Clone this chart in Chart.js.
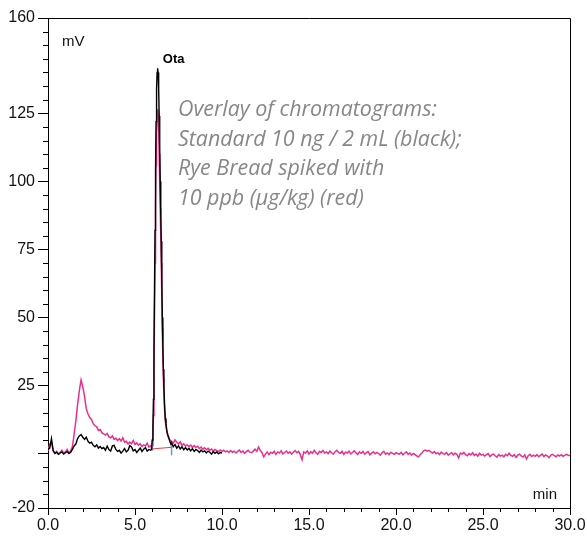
<!DOCTYPE html>
<html>
<head>
<meta charset="utf-8">
<script src="https://cdn.jsdelivr.net/npm/chart.js@4.4.1/dist/chart.umd.min.js"></script>
<style>
  body { margin: 0; background: #fff; }
  #wrap { width: 587px; height: 537px; }
</style>
</head>
<body>
<div id="wrap"><canvas id="chart" width="587" height="537"></canvas></div>
<script>
// axis ticks
const xTickStep = 5;
const yTicks = [-20, 0, 25, 50, 75, 100, 125, 160];

// black trace (standard), sampled every 0.1 min outside the peak
const blackStart = 0.0;
const blackBefore = [
  1.5, 2, 5.5, 1, 0, 0.5, -0.3, 0.2, 0.6, -0.2,
  0.3, 0.8, 0, 0.5, 1.5, 2.8, 3.5, 5.5, 6.5, 7,
  6, 5.2, 6, 4.5, 3.8, 4.2, 3, 2.5, 3.2, 2,
  2.6, 1.8, 2.2, 1.2, 2.7, 1.5, 0.9, 2.8, 3, 1.5,
  0.8, 1.2, 0.2, 0.9, 1.8, 0.6, 1.2, 2.9, 2.4, 1,
  1.5, 0.4, 1.2, 2, 0.8, 1.6, 2.2, 0.9, 1.5, 1.2
];
const blackPeakT = [5.95, 5.99, 6.03, 6.06, 6.09, 6.12, 6.15, 6.18, 6.21, 6.24, 6.27, 6.30, 6.33, 6.36, 6.39,
  6.42, 6.45, 6.48, 6.51, 6.54, 6.57, 6.60, 6.63, 6.66, 6.70, 6.74, 6.78, 6.83, 6.88, 6.94, 7.00, 7.06];
const blackPeakV = [1.5, 5, 10, 20, 38, 60, 82, 104, 122, 134, 140, 141.5, 140, 134, 124,
  112, 100, 88, 78, 64, 50, 40, 31, 25, 18, 13, 11, 8.5, 7, 6, 4.5, 3.5];
const blackAfterStart = 7.1;
const blackAfter = [
  4, 2.5, 3.3, 2, 2.8, 1.7, 2.5, 1.4, 2.2, 1.3,
  1.9, 1, 1.8, 0.8, 1.5, 1.1, 0.4, 1.3, 0.6, 1,
  0.2, 0.9, 0.5, -0.2, 0.7, 0.1, 0.6, -0.1, 0.4, 0.2
];

// red trace (spiked rye bread)
const redStart = 0.0;
const redBefore = [
  1, 3.5, 4, 1, 0.2, 0.8, -0.2, 0.5, 1.2, 0.1,
  0.6, 1.5, 0.3, 0.9, 2.5, 7, 12, 18, 23, 27,
  24.5, 21, 16.5, 14.5, 13.2, 12.5, 11, 10.2, 9.8, 8.5,
  8.8, 7.6, 7.2, 6.8, 7.4, 6.1, 5.8, 6.5, 5.2, 5.6,
  4.8, 5.5, 4.6, 5.8, 4.2, 4.5, 3.5, 4.2, 3.6, 4.8,
  3.3, 3.9, 3.1, 3.6, 2.6, 3.2, 2.8, 3.8, 2.4, 2.9
];
const redPeakT = [5.95, 6.00, 6.03, 6.06, 6.09, 6.12, 6.15, 6.18, 6.21, 6.24, 6.27, 6.30, 6.33, 6.36, 6.39,
  6.42, 6.45, 6.48, 6.51, 6.54, 6.57, 6.60, 6.63, 6.66, 6.70, 6.74, 6.78, 6.83, 6.88, 6.94, 7.00];
const redPeakV = [2, 3, 6, 14, 30, 50, 70, 90, 106, 118, 124, 126.5, 125, 119, 110,
  100, 90, 80, 70, 58, 46, 36, 28, 22, 16, 12, 10, 8, 6.5, 5.5, 5];
const redAfterStart = 7.1;
const redAfter = [
  4.5, 3.8, 5, 4.2, 3.5, 4.3, 3, 3.6, 2.8, 3.2,
  2.6, 3.1, 2.2, 2.9, 2.3, 2.7, 1.8, 2.4, 1.6, 2.1,
  1.4, 1.9, 1.2, 1.7, 0.9, 1.5, 1.1, 0.7, 1.3, 0.8,
  1.2, 0.6, 1, 0.4, 1.1, 0.5, 0.9, 0.2, 0.8, 1.3,
  0.4, 0.9, 0.1, 0.7, 1.2, 0.5, 0.3, 0.9, 1.6, 0.8,
  2.4, 1.2, 0.3, -1.2, -0.2, 0.6, -0.4, 0.5, 0.1, 0.8,
  -0.3, 0.6, 0.2, 1.0, -0.1, 0.4, 0.9, 0.1, 0.6, -0.2,
  0.5, 1.1, 0.3, 0.8, -0.4, -2.3, 0.6, 0.2, 1.0, -0.2,
  0.7, 0.1, 1.2, 0.3, -0.3, 0.8, 0.4, 1.1, 0.2, 0.6,
  0.0, 0.9, 0.3, -0.2, 0.7, 1.2, 0.4, 0.1, 0.8, -0.3,
  0.5, 0.2, 0.9, -0.1, 0.4, 1.0, 0.3, -0.4, 0.6, 0.1,
  0.8, -0.2, 0.3, 0.7, -0.5, 0.2, 0.6, -0.1, 0.4, 0.0,
  -0.6, 0.3, 0.8, -0.2, 0.2, -0.4, 0.5, 0.1, -0.3, 0.3,
  0.0, -0.2, 0.4, -0.5, 0.1, 0.6, -0.3, 0.2, -0.6, 0.0,
  -0.4, -0.9, -1.2, -0.3, 0.3, 1.1, 1.3, 0.9, 1.2, 0.6,
  0.2, 0.7, -0.1, 0.3, -0.4, 0.5, 0.0, -0.3, 0.4, -0.6,
  -0.1, 0.3, -0.5, 0.1, -0.3, -1.6, 0.2, -0.2, 0.4, -0.4,
  -0.8, 0.0, -0.5, 0.3, -0.7, -0.2, -1.0, 0.1, -0.6, -0.3,
  -0.9, -0.4, 0.0, -1.1, -0.5, -0.2, -0.8, -1.3, -0.4, -0.9,
  -0.6, -1.2, -0.3, -0.8, 0.1, -0.7, -1.0, -0.4, -1.4, -0.6,
  -0.2, -0.9, -1.3, -0.5, -2.0, -0.8, -0.3, -1.1, -0.6, -1.0,
  -0.4, -1.2, -0.7, -0.2, -1.1, -0.5, -0.9, -1.5, -0.6, -0.3,
  -0.8, -1.2, -0.5, -0.9, -0.4, -1.0, -0.7, -0.3, -0.6, -0.8
];
const sampleStep = 0.1;

// integration baseline and its start/end markers
const baseLineT = [6.0, 7.1];
const baseLineV = [1.7, 2.3];
const markStartV = [4.8, 1.0];
const markEndV = [3.2, -0.6];

const peakName = "Ota";
const peakTime = 6.31;
const peakTop = 141.5;

const noteLines = [
  "Overlay of chromatograms:",
  "Standard 10 ng / 2 mL (black);",
  "Rye Bread spiked with",
  "10 ppb (\u00b5g/kg) (red)"
];

const BLACK = "#000000";
const PINK = "rgb(232,48,140)";

function grid(start, vals) {
  return vals.map((v, i) => ({ x: +(start + i * sampleStep).toFixed(2), y: v }));
}
function pairs(ts, vs) {
  return ts.map((t, i) => ({ x: t, y: vs[i] }));
}

const blackData = [...grid(blackStart, blackBefore), ...pairs(blackPeakT, blackPeakV), ...grid(blackAfterStart, blackAfter)];
const redData = [...grid(redStart, redBefore), ...pairs(redPeakT, redPeakV), ...grid(redAfterStart, redAfter)];

const FONT = "'Liberation Sans', Arial, sans-serif";
Chart.defaults.font.family = FONT;
Chart.defaults.color = "#111";

const extras = {
  id: "extras",
  afterDraw(chart) {
    const { ctx, chartArea: a, scales } = chart;
    const xs = scales.x, ys = scales.y;
    ctx.save();
    ctx.strokeStyle = "#000";
    ctx.lineWidth = 1;
    // frame top + right
    ctx.beginPath();
    ctx.moveTo(Math.round(a.left), Math.round(a.top) + 0.5);
    ctx.lineTo(Math.round(a.right) + 0.5, Math.round(a.top) + 0.5);
    ctx.lineTo(Math.round(a.right) + 0.5, Math.round(a.bottom));
    ctx.stroke();
    // minor ticks
    ctx.beginPath();
    for (let v = 0; v <= 30; v += 1) {
      if (v % xTickStep === 0) continue;
      const px = Math.round(xs.getPixelForValue(v)) + 0.5;
      ctx.moveTo(px, a.bottom);
      ctx.lineTo(px, a.bottom + 4);
    }
    for (let v = -20; v <= 160; v += 5) {
      if (yTicks.includes(v)) continue;
      const py = Math.round(ys.getPixelForValue(v)) + 0.5;
      ctx.moveTo(a.left - 5, py);
      ctx.lineTo(a.left, py);
    }
    ctx.stroke();

    // axis units
    ctx.fillStyle = "#111";
    ctx.font = "15px " + FONT;
    ctx.textBaseline = "alphabetic";
    ctx.textAlign = "left";
    ctx.fillText("mV", a.left + 14, a.top + 28);
    ctx.textAlign = "right";
    ctx.fillText("min", a.right - 13, a.bottom - 9);

    // peak name
    ctx.font = "bold 13px " + FONT;
    ctx.textAlign = "left";
    ctx.fillStyle = "#000";
    ctx.fillText(peakName, xs.getPixelForValue(peakTime) + 5, ys.getPixelForValue(peakTop) - 5);

    // note, sized so the second line is about 284 px wide
    ctx.fillStyle = "#878787";
    ctx.font = "italic 20px 'Open Sans', sans-serif";
    const size = Math.min(23, 20 * 284 / ctx.measureText(noteLines[1]).width);
    ctx.font = "italic " + size.toFixed(1) + "px 'Open Sans', sans-serif";
    noteLines.forEach((t, i) => {
      ctx.fillText(t, 178, 116 + i * 29.5);
    });
    ctx.restore();
  }
};

new Chart(document.getElementById("chart"), {
  type: "line",
  data: {
    datasets: [
      { data: blackData, borderColor: BLACK, borderWidth: 1.4, pointRadius: 0, tension: 0 },
      { data: pairs(baseLineT, baseLineV), borderColor: "#e8403a", borderWidth: 1, pointRadius: 0 },
      { data: pairs([baseLineT[0], baseLineT[0]], markStartV), borderColor: "#7a93c8", borderWidth: 1.5, pointRadius: 0 },
      { data: pairs([baseLineT[1], baseLineT[1]], markEndV), borderColor: "#7a93c8", borderWidth: 1.5, pointRadius: 0 },
      { data: redData, borderColor: PINK, borderWidth: 1.5, pointRadius: 0, tension: 0 }
    ]
  },
  options: {
    responsive: false,
    animation: false,
    layout: { padding: { top: 18, right: 17, left: 0, bottom: 0 } },
    plugins: { legend: { display: false }, tooltip: { enabled: false }, title: { display: false } },
    scales: {
      x: {
        type: "linear",
        min: 0,
        max: 30,
        ticks: {
          stepSize: xTickStep,
          autoSkip: false,
          maxRotation: 0,
          padding: 1,
          color: "#111",
          font: { size: 16 },
          callback: v => Number(v).toFixed(1)
        },
        grid: { drawOnChartArea: false, drawTicks: true, tickLength: 7, tickColor: "#000" },
        border: { color: "#000", width: 1 },
        afterFit: s => { s.height = 29; }
      },
      y: {
        type: "linear",
        min: -20,
        max: 160,
        afterBuildTicks: s => { s.ticks = yTicks.map(v => ({ value: v })); },
        ticks: {
          padding: 3,
          color: "#111",
          font: { size: 16 },
          callback: v => (v === 0 ? "" : String(v))
        },
        grid: { drawOnChartArea: false, drawTicks: true, tickLength: 10, tickColor: "#000" },
        border: { color: "#000", width: 1 },
        afterFit: s => { s.width = 48; }
      }
    }
  },
  plugins: [extras]
});
</script>
</body>
</html>
